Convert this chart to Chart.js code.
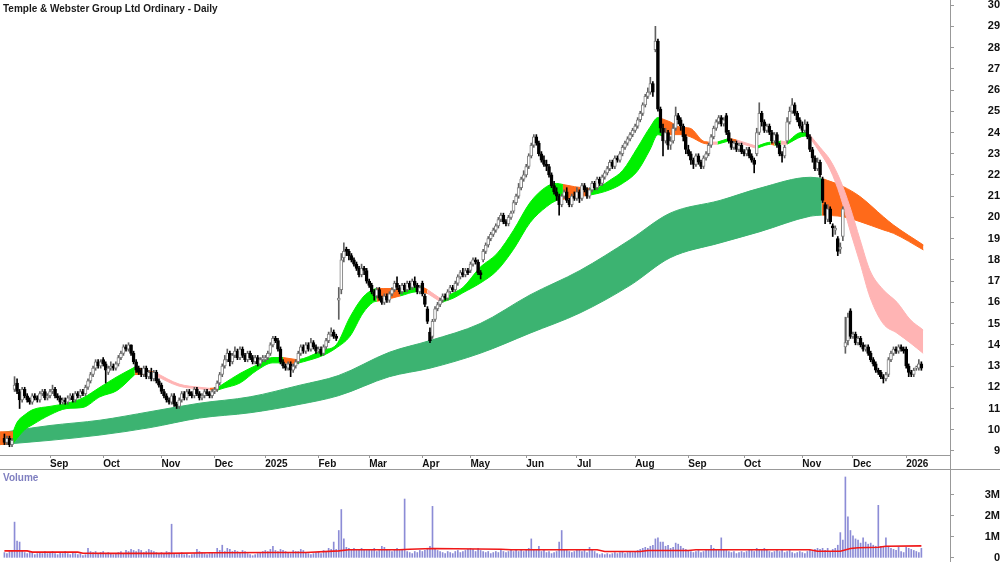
<!DOCTYPE html>
<html>
<head>
<meta charset="utf-8">
<script src="https://cdn.jsdelivr.net/npm/chart.js@4.4.1/dist/chart.umd.min.js"></script>
<style>
  body { margin: 0; background: #fff; }
  #wrap { position: relative; width: 1000px; height: 562px; }
  canvas { position: absolute; left: 0; }
  #price { top: 0; }
  #vol { top: 469px; }
</style>
</head>
<body>
<div id="wrap">
  <canvas id="price" width="1000" height="469"></canvas>
  <canvas id="vol" width="1000" height="93"></canvas>
</div>
<script>
// daily bars, index 0 = first session shown (Aug 2024)
const opens = [
  9.6, 9.4, 9.6, 9.3, 11.9, 12.2, 11.8, 11.4, 11.9, 11.6, 11.4, 11.3, 11.6, 11.5, 11.4, 11.7, 11.8, 11.5,
  11.6, 11.8, 11.9, 11.6, 11.5, 11.3, 11.4, 11.3, 11.5, 11.6, 11.4, 11.7, 11.6, 11.8, 11.7, 12.0, 12.3, 12.6, 12.9, 13.2, 13.0,
  13.3, 13.1, 12.7, 12.9, 13.0, 12.9, 13.1, 13.4, 13.6, 13.9, 13.8, 14.0, 13.6, 13.2, 12.9, 12.8, 12.6, 12.9, 12.5, 12.7, 12.4, 12.7, 12.3,
  12.1, 11.8, 11.6, 11.4, 11.3, 11.6, 11.2, 11.1, 11.4, 11.7, 11.5, 11.8, 11.7, 11.6, 11.9, 11.7, 11.5, 11.6, 11.8, 11.7, 11.6,
  11.8, 11.9, 12.2, 12.6, 13.0, 13.3, 13.6, 13.2, 13.5, 13.7, 13.4, 13.8, 13.5, 13.3, 13.6, 13.4, 13.2, 13.4, 13.1, 13.3,
  13.3, 13.4, 13.6, 14.0, 14.3, 14.2, 13.8, 13.2, 13.0, 12.9, 13.1, 12.8, 13.0, 13.2, 13.6, 13.9, 13.7, 14.0, 13.8, 14.1, 13.9,
  13.7, 13.8, 13.6, 13.9, 14.2, 14.5, 14.6, 14.4, 16.1, 16.6, 18.1, 18.5, 18.4, 18.2, 18.0, 17.8, 17.6, 17.3, 17.6, 17.5,
  17.0, 16.8, 16.5, 16.3, 16.6, 16.2, 16.0, 16.3, 16.1, 16.4, 16.6, 16.9, 16.7, 16.5, 16.8, 16.6, 16.9, 16.7, 17.0, 16.8, 16.5,
  16.9, 16.3, 15.7, 14.6, 14.4, 15.2, 15.7, 15.9, 16.1, 16.3, 16.2, 16.5, 16.7, 16.6, 16.9, 17.2, 17.4, 17.3, 17.5,
  17.5, 17.8, 18.0, 17.9, 17.4, 18.0, 18.4, 18.7, 19.0, 19.2, 19.4, 19.6, 19.9, 20.1, 19.8, 19.7, 20.0, 20.3, 20.7, 21.0, 21.4, 21.8,
  22.0, 22.4, 22.9, 23.4, 23.8, 23.5, 23.0, 22.7, 22.5, 22.4, 22.0, 21.5, 21.2, 21.0, 20.6, 21.0, 21.2, 20.8, 20.6, 21.0,
  20.9, 21.2, 20.9, 21.5, 21.3, 21.0, 21.3, 21.6, 21.4, 21.8, 21.6, 21.9, 22.1, 22.3, 22.6, 22.4, 22.8, 22.7, 23.0, 23.3, 23.5, 23.7, 23.9,
  24.1, 24.3, 24.6, 24.9, 25.3, 25.7, 25.9, 26.3, 27.9, 28.3, 25.1, 24.2, 23.6, 24.0, 23.4, 23.6, 24.2, 24.8, 24.6, 24.3, 23.8,
  23.2, 23.0, 22.7, 22.5, 22.9, 22.6, 22.4, 22.8, 23.0, 23.4, 23.8, 24.2, 24.5, 24.7, 24.4, 24.8, 24.0, 23.6, 23.3, 23.5, 23.2, 23.4,
  23.1, 23.0, 23.2, 22.9, 22.7, 23.0, 24.0, 24.9, 24.5, 24.1, 24.3, 24.0, 23.6, 23.9, 23.4, 23.0, 22.9, 23.6, 24.5, 25.0, 25.3, 24.9, 24.6,
  24.3, 24.1, 24.4, 23.8, 23.2, 22.8, 22.3, 22.6, 21.8, 20.6, 19.9, 20.4, 19.6, 19.4, 19.0, 18.5, 19.1, 13.9, 14.2, 15.6,
  14.4, 14.5, 14.1, 14.3, 14.0, 13.8, 13.9, 13.6, 13.3, 13.1, 12.8, 12.7, 12.5, 12.4, 12.6, 13.3, 13.6, 13.8, 13.7, 13.9, 13.8,
  13.8, 13.0, 12.7, 12.6, 12.9, 12.9, 13.1
];
const highs = [
  9.8, 9.7, 9.7, 9.6, 12.5, 12.4, 11.9, 12.0, 12.0, 11.7, 11.5, 11.7, 11.7, 11.6, 11.8, 11.9, 11.9, 11.7,
  11.9, 12.1, 12.0, 11.7, 11.6, 11.5, 11.5, 11.6, 11.7, 11.7, 11.8, 11.8, 11.9, 11.9, 12.1, 12.4, 12.7, 13.0, 13.3, 13.3, 13.3,
  13.4, 13.2, 13.0, 13.2, 13.1, 13.2, 13.5, 13.7, 14.0, 14.0, 14.1, 14.0, 13.7, 13.3, 13.0, 12.9, 13.0, 13.0, 12.8, 12.9, 12.8, 12.8, 12.4,
  12.2, 11.9, 11.7, 11.5, 11.7, 11.7, 11.3, 11.5, 11.8, 11.8, 11.9, 11.9, 11.8, 12.0, 12.0, 11.8, 11.7, 11.9, 11.9, 11.8, 11.9,
  12.0, 12.3, 12.7, 13.1, 13.5, 13.8, 13.7, 13.6, 13.9, 13.8, 13.9, 13.9, 13.6, 13.7, 13.7, 13.5, 13.5, 13.5, 13.4, 13.5,
  13.5, 13.7, 14.1, 14.4, 14.4, 14.3, 13.9, 13.3, 13.1, 13.2, 13.2, 13.1, 13.3, 13.7, 14.0, 14.0, 14.1, 14.1, 14.3, 14.2, 14.0,
  13.9, 13.9, 14.0, 14.3, 14.6, 14.8, 14.7, 14.5, 16.7, 18.3, 18.8, 18.6, 18.5, 18.3, 18.1, 17.9, 17.7, 17.8, 17.7, 17.6,
  17.1, 16.9, 16.6, 16.7, 16.7, 16.3, 16.4, 16.4, 16.5, 16.7, 17.0, 17.2, 16.8, 16.9, 16.9, 17.0, 17.0, 17.1, 17.2, 16.9, 16.8,
  17.0, 16.4, 15.8, 14.8, 15.2, 15.8, 16.0, 16.2, 16.4, 16.4, 16.6, 16.8, 16.8, 17.0, 17.3, 17.5, 17.6, 17.6, 17.6,
  17.9, 18.1, 18.1, 18.0, 17.5, 18.5, 18.8, 19.1, 19.3, 19.5, 19.7, 20.0, 20.2, 20.2, 19.9, 20.1, 20.3, 20.8, 21.1, 21.6, 21.9, 22.2,
  22.5, 23.0, 23.5, 23.9, 23.9, 23.6, 23.1, 22.9, 22.7, 22.5, 22.1, 21.7, 21.4, 21.1, 21.1, 21.3, 21.4, 20.9, 21.1, 21.2,
  21.4, 21.3, 21.6, 21.6, 21.4, 21.4, 21.7, 21.7, 21.9, 21.9, 22.0, 22.2, 22.4, 22.7, 22.7, 22.9, 22.9, 23.1, 23.4, 23.6, 23.8, 24.0, 24.2,
  24.4, 24.7, 25.0, 25.4, 25.8, 26.1, 26.6, 26.4, 29.0, 28.4, 25.2, 24.4, 24.2, 24.1, 23.8, 24.4, 25.2, 24.9, 24.7, 24.4, 23.9,
  23.4, 23.1, 22.8, 23.0, 23.0, 22.7, 22.9, 23.1, 23.5, 23.9, 24.3, 24.6, 24.8, 24.8, 24.7, 24.9, 24.1, 23.7, 23.6, 23.6, 23.5, 23.5,
  23.2, 23.3, 23.3, 23.0, 22.8, 24.2, 25.4, 25.0, 24.6, 24.4, 24.4, 24.1, 24.0, 24.0, 23.5, 23.1, 23.4, 24.7, 25.2, 25.6, 25.4, 25.0, 24.7,
  24.5, 24.6, 24.5, 23.9, 23.3, 22.9, 22.8, 22.7, 21.9, 20.7, 20.6, 20.5, 19.7, 19.6, 19.1, 18.8, 20.5, 15.3, 15.5, 15.7,
  14.6, 14.6, 14.4, 14.4, 14.1, 14.0, 14.0, 13.7, 13.4, 13.2, 12.9, 12.8, 12.6, 12.7, 13.4, 13.7, 13.9, 13.9, 14.0, 14.0, 13.9,
  13.9, 13.1, 12.8, 12.9, 13.0, 13.3, 13.2
];
const lows = [
  9.3, 9.3, 9.2, 9.2, 11.8, 11.7, 11.0, 11.3, 11.5, 11.3, 11.2, 11.2, 11.4, 11.3, 11.3, 11.6, 11.4, 11.4,
  11.5, 11.7, 11.5, 11.4, 11.2, 11.2, 11.2, 11.2, 11.4, 11.3, 11.3, 11.5, 11.5, 11.6, 11.6, 11.9, 12.2, 12.5, 12.8, 12.9, 12.9,
  13.0, 12.2, 12.6, 12.8, 12.8, 12.8, 13.0, 13.3, 13.5, 13.7, 13.7, 13.5, 13.1, 12.7, 12.6, 12.5, 12.5, 12.4, 12.4, 12.3, 12.3, 12.2, 12.0,
  11.7, 11.5, 11.3, 11.2, 11.2, 11.1, 11.0, 11.0, 11.3, 11.4, 11.4, 11.6, 11.5, 11.5, 11.6, 11.4, 11.4, 11.5, 11.6, 11.5, 11.5,
  11.7, 11.8, 12.1, 12.5, 12.9, 13.2, 13.0, 13.1, 13.4, 13.3, 13.3, 13.4, 13.2, 13.2, 13.3, 13.1, 13.1, 13.0, 13.0, 13.2,
  13.2, 13.3, 13.5, 13.9, 14.1, 13.7, 13.1, 12.9, 12.8, 12.8, 12.5, 12.7, 12.9, 13.1, 13.5, 13.6, 13.6, 13.7, 13.7, 13.8, 13.6,
  13.6, 13.5, 13.5, 13.8, 14.1, 14.4, 14.3, 14.2, 15.2, 16.4, 17.9, 18.2, 18.0, 17.9, 17.7, 17.5, 17.2, 17.2, 17.3, 16.9,
  16.7, 16.4, 16.1, 16.2, 16.1, 15.9, 15.9, 16.0, 16.0, 16.3, 16.5, 16.6, 16.4, 16.4, 16.5, 16.5, 16.6, 16.6, 16.7, 16.4, 16.4,
  16.3, 15.8, 15.0, 14.1, 14.3, 15.1, 15.6, 15.8, 16.0, 16.1, 16.1, 16.4, 16.5, 16.5, 16.8, 17.1, 17.2, 17.2, 17.3,
  17.4, 17.7, 17.8, 17.3, 17.1, 17.9, 18.3, 18.6, 18.9, 19.1, 19.3, 19.5, 19.8, 19.7, 19.6, 19.6, 19.9, 20.2, 20.6, 20.9, 21.3, 21.7,
  21.9, 22.3, 22.8, 23.3, 23.4, 22.9, 22.6, 22.4, 22.2, 21.9, 21.4, 21.1, 20.8, 20.1, 20.5, 20.9, 20.7, 20.5, 20.5, 20.8,
  20.8, 20.7, 20.8, 21.2, 20.9, 20.9, 21.2, 21.3, 21.3, 21.5, 21.5, 21.8, 22.0, 22.2, 22.3, 22.3, 22.6, 22.6, 22.9, 23.2, 23.4, 23.6, 23.8,
  24.0, 24.2, 24.5, 24.8, 25.2, 25.6, 25.8, 25.7, 27.8, 25.0, 24.0, 22.9, 23.5, 23.2, 23.2, 23.5, 24.1, 24.4, 24.1, 23.6, 23.0,
  22.9, 22.5, 22.3, 22.4, 22.5, 22.3, 22.3, 22.7, 22.9, 23.3, 23.7, 24.1, 24.4, 24.3, 24.3, 23.9, 23.5, 23.2, 23.2, 23.1, 23.1, 23.0,
  22.9, 22.9, 22.8, 22.6, 22.1, 22.9, 23.9, 24.3, 24.0, 24.0, 23.9, 23.5, 23.5, 23.3, 22.9, 22.6, 22.8, 23.5, 24.4, 24.9, 24.8, 24.5, 24.2,
  24.0, 24.0, 23.7, 23.1, 22.6, 22.2, 22.2, 21.9, 20.7, 19.7, 19.8, 19.7, 19.1, 19.2, 18.2, 18.3, 18.9, 13.6, 14.0, 14.3,
  14.3, 14.0, 14.0, 13.9, 13.7, 13.7, 13.5, 13.2, 13.0, 12.7, 12.6, 12.4, 12.2, 12.3, 12.5, 13.2, 13.5, 13.6, 13.6, 13.7, 13.6,
  12.9, 12.5, 12.5, 12.5, 12.8, 12.8, 12.8
];
const closes = [
  9.4, 9.6, 9.3, 9.5, 12.1, 11.8, 11.4, 11.9, 11.6, 11.4, 11.3, 11.6, 11.5, 11.4, 11.7, 11.8, 11.5, 11.6,
  11.8, 11.9, 11.6, 11.5, 11.3, 11.4, 11.3, 11.5, 11.6, 11.4, 11.7, 11.6, 11.8, 11.7, 12.0, 12.3, 12.6, 12.9, 13.2, 13.0, 13.2,
  13.1, 12.8, 12.9, 13.0, 12.9, 13.1, 13.4, 13.6, 13.9, 13.8, 14.0, 13.6, 13.2, 12.8, 12.7, 12.6, 12.9, 12.5, 12.7, 12.4, 12.7, 12.3, 12.1,
  11.8, 11.6, 11.4, 11.3, 11.6, 11.2, 11.1, 11.4, 11.7, 11.5, 11.8, 11.7, 11.6, 11.9, 11.7, 11.5, 11.6, 11.8, 11.7, 11.6, 11.8,
  11.9, 12.2, 12.6, 13.0, 13.3, 13.6, 13.2, 13.5, 13.7, 13.4, 13.8, 13.5, 13.3, 13.6, 13.4, 13.2, 13.4, 13.1, 13.3, 13.4,
  13.4, 13.6, 14.0, 14.3, 14.2, 13.8, 13.2, 13.0, 12.9, 13.1, 12.8, 13.0, 13.2, 13.6, 13.9, 13.7, 14.0, 13.8, 14.1, 13.9, 13.7,
  13.8, 13.6, 13.9, 14.2, 14.5, 14.6, 14.4, 14.3, 16.2, 18.0, 18.4, 18.4, 18.2, 18.0, 17.8, 17.6, 17.3, 17.6, 17.5, 17.0,
  16.8, 16.5, 16.3, 16.6, 16.2, 16.0, 16.3, 16.1, 16.4, 16.6, 16.9, 16.7, 16.5, 16.8, 16.6, 16.9, 16.7, 17.0, 16.8, 16.5, 16.7,
  16.4, 15.9, 15.1, 14.2, 15.1, 15.7, 15.9, 16.1, 16.3, 16.2, 16.5, 16.7, 16.6, 16.9, 17.2, 17.4, 17.3, 17.5, 17.4,
  17.8, 18.0, 17.9, 17.4, 17.3, 18.4, 18.7, 19.0, 19.2, 19.4, 19.6, 19.9, 20.1, 19.8, 19.7, 20.0, 20.2, 20.7, 21.0, 21.4, 21.8, 22.0,
  22.4, 22.9, 23.4, 23.8, 23.5, 23.0, 22.7, 22.5, 22.4, 22.0, 21.5, 21.2, 21.0, 20.6, 21.0, 21.2, 20.8, 20.6, 21.0, 20.9,
  21.2, 20.9, 21.5, 21.3, 21.0, 21.3, 21.6, 21.4, 21.8, 21.6, 21.9, 22.1, 22.3, 22.6, 22.4, 22.8, 22.7, 23.0, 23.3, 23.5, 23.7, 23.9, 24.1,
  24.3, 24.6, 24.9, 25.3, 25.7, 25.9, 26.3, 25.9, 28.3, 25.1, 24.2, 23.6, 24.0, 23.4, 23.6, 24.2, 24.8, 24.6, 24.3, 23.8, 23.2,
  23.0, 22.7, 22.5, 22.9, 22.6, 22.4, 22.8, 23.0, 23.4, 23.8, 24.2, 24.5, 24.7, 24.4, 24.6, 24.0, 23.6, 23.3, 23.5, 23.2, 23.4, 23.1,
  23.0, 23.2, 22.9, 22.7, 22.5, 24.0, 24.9, 24.5, 24.1, 24.3, 24.0, 23.6, 23.9, 23.4, 23.0, 22.9, 23.3, 24.5, 25.0, 25.3, 24.9, 24.6, 24.3,
  24.1, 24.4, 23.8, 23.2, 22.8, 22.3, 22.6, 22.0, 20.8, 20.1, 20.4, 19.8, 19.5, 19.5, 18.4, 18.6, 20.4, 14.1, 15.3, 14.4,
  14.5, 14.1, 14.3, 14.0, 13.8, 13.9, 13.6, 13.3, 13.1, 12.8, 12.7, 12.5, 12.4, 12.6, 13.3, 13.6, 13.8, 13.7, 13.9, 13.8, 13.7,
  13.0, 12.7, 12.6, 12.8, 12.9, 13.1, 12.9
];
// volume in millions of shares
const volumes = [
  0.25, 0.2, 0.3, 0.35, 1.7, 0.8, 0.75, 0.35, 0.25, 0.2, 0.3, 0.25, 0.15, 0.2, 0.25, 0.2, 0.3, 0.2,
  0.25, 0.3, 0.2, 0.15, 0.25, 0.2, 0.3, 0.2, 0.15, 0.25, 0.2, 0.15, 0.2, 0.1, 0.15, 0.45, 0.3, 0.25, 0.3, 0.2, 0.25,
  0.3, 0.2, 0.25, 0.2, 0.15, 0.2, 0.25, 0.3, 0.2, 0.35, 0.3, 0.4, 0.35, 0.3, 0.4, 0.35, 0.25, 0.3, 0.4, 0.35, 0.3, 0.25, 0.2,
  0.25, 0.2, 0.3, 0.25, 1.6, 0.2, 0.15, 0.2, 0.25, 0.15, 0.2, 0.1, 0.15, 0.2, 0.4, 0.3, 0.25, 0.2, 0.15, 0.2, 0.25,
  0.2, 0.45, 0.35, 0.6, 0.3, 0.45, 0.4, 0.3, 0.35, 0.3, 0.25, 0.35, 0.3, 0.2, 0.15, 0.1, 0.15, 0.2, 0.25, 0.3,
  0.35, 0.3, 0.4, 0.55, 0.35, 0.3, 0.4, 0.35, 0.3, 0.25, 0.2, 0.35, 0.3, 0.3, 0.4, 0.35, 0.25, 0.2, 0.15, 0.2, 0.25,
  0.3, 0.2, 0.35, 0.3, 0.45, 0.4, 0.75, 0.4, 1.3, 2.3, 0.9, 0.5, 0.45, 0.4, 0.45, 0.35, 0.4, 0.45, 0.4, 0.35,
  0.4, 0.35, 0.45, 0.3, 0.35, 0.55, 0.5, 0.4, 0.35, 0.3, 0.4, 0.45, 0.35, 0.4, 2.8, 0.3, 0.25, 0.2, 0.3, 0.25, 0.35,
  0.3, 0.35, 0.4, 0.55, 2.45, 0.4, 0.35, 0.3, 0.25, 0.2, 0.3, 0.25, 0.2, 0.3, 0.35, 0.25, 0.3, 0.35, 0.4,
  0.45, 0.4, 0.3, 0.45, 0.35, 0.3, 0.25, 0.3, 0.2, 0.25, 0.3, 0.25, 0.35, 0.3, 0.25, 0.3, 0.35, 0.3, 0.4, 0.3, 0.35, 0.3,
  0.4, 0.45, 0.9, 0.4, 0.35, 0.55, 0.3, 0.35, 0.25, 0.3, 0.2, 0.25, 0.3, 0.75, 1.3, 0.4, 0.35, 0.3, 0.25, 0.3,
  0.35, 0.4, 0.3, 0.35, 0.25, 0.5, 0.35, 0.3, 0.2, 0.15, 0.2, 0.15, 0.2, 0.15, 0.2, 0.25, 0.2, 0.25, 0.3, 0.2, 0.25, 0.3, 0.25,
  0.3, 0.35, 0.4, 0.45, 0.5, 0.45, 0.55, 0.6, 0.9, 0.95, 0.75, 0.75, 0.55, 0.6, 0.45, 0.5, 0.7, 0.65, 0.55, 0.45, 0.4,
  0.35, 0.3, 0.25, 0.3, 0.35, 0.25, 0.3, 0.35, 0.4, 0.6, 0.45, 0.4, 0.35, 0.95, 0.4, 0.35, 0.3, 0.25, 0.3, 0.2, 0.25, 0.3,
  0.25, 0.3, 0.4, 0.35, 0.3, 0.45, 0.4, 0.35, 0.45, 0.4, 0.3, 0.25, 0.3, 0.35, 0.3, 0.4, 0.25, 0.3, 0.35, 0.25, 0.2, 0.25, 0.3,
  0.25, 0.2, 0.3, 0.35, 0.3, 0.4, 0.45, 0.4, 0.45, 0.35, 0.45, 0.3, 0.4, 0.45, 0.6, 1.2, 0.85, 3.85, 1.95, 1.3,
  1.05, 0.9, 0.85, 0.7, 0.95, 0.75, 0.65, 0.7, 0.6, 0.55, 2.5, 0.55, 0.5, 0.95, 0.5, 0.45, 0.4, 0.35, 0.5, 0.3, 0.25,
  0.5, 0.45, 0.4, 0.35, 0.3, 0.25, 0.45
];

// volume average line (red)
const volAvgDay = [0, 9, 11, 29, 31, 42, 64, 82, 105, 119, 132, 136, 156, 160, 169, 196, 200, 234, 237, 251, 254, 270, 273, 318, 321, 330, 334, 337, 345, 348, 362];
const volAvg = [0.33, 0.33, 0.27, 0.27, 0.22, 0.21, 0.21, 0.24, 0.25, 0.25, 0.33, 0.38, 0.38, 0.41, 0.44, 0.41, 0.38, 0.38, 0.30, 0.30, 0.35, 0.35, 0.38, 0.38, 0.31, 0.31, 0.44, 0.48, 0.50, 0.55, 0.57];

// short-term average ribbon: day, upper, lower, colour of the stretch that starts there
const shortDay = [-1.7, 3.4, 5, 8, 11.3, 18, 24.7, 31, 37.7, 44.5, 51.5, 55, 59.5, 69, 77, 81, 84, 86.3, 93, 99.7, 106, 110, 115.5, 118, 125.8, 131, 136.4, 141.6, 145.5, 147, 149.5, 156.2, 163, 165, 167, 172.5, 177.3, 181, 187.8, 194.5, 201, 207.5, 214, 218, 220.5, 225, 231, 235, 239, 244, 250, 254.9, 258, 259.5, 262.8, 266.7, 270.7, 275.8, 278, 281.5, 286, 289, 297, 300.5, 302.5, 304, 306.5, 309, 314.6, 317, 318.2, 322, 326, 330, 333.8, 337.8, 341.7, 346.9, 352.4, 357.5, 362.7];
const shortTop = [9.9, 9.9, 10.35, 10.7, 10.95, 11.1, 11.25, 11.5, 12.0, 12.5, 12.95, 12.85, 12.7, 12.15, 12.0, 11.95, 11.97, 12.15, 12.65, 13.05, 13.4, 13.4, 13.3, 13.35, 13.75, 14.0, 15.3, 16.25, 16.6, 16.65, 16.65, 16.65, 16.75, 16.72, 16.6, 16.15, 16.45, 16.7, 17.65, 18.3, 19.4, 20.7, 21.45, 21.6, 21.55, 21.45, 21.35, 21.45, 21.75, 22.2, 23.3, 24.25, 24.7, 24.65, 24.5, 24.25, 24.2, 23.6, 23.55, 23.55, 23.72, 23.65, 23.35, 23.5, 23.55, 23.5, 23.6, 23.55, 24.0, 24.0, 23.85, 23.3, 22.7, 21.75, 20.5, 18.95, 17.5, 16.6, 16.0, 15.2, 14.7];
const shortBot = [9.3, 9.35, 9.6, 10.0, 10.25, 10.7, 11.0, 11.05, 11.55, 11.85, 12.6, 12.6, 12.55, 12.05, 11.93, 11.88, 11.86, 11.95, 12.2, 12.8, 13.15, 13.15, 13.12, 13.2, 13.5, 13.85, 14.4, 15.5, 16.0, 16.05, 16.1, 16.3, 16.5, 16.5, 16.42, 16.0, 16.2, 16.45, 16.9, 17.5, 18.5, 19.75, 20.5, 20.8, 20.85, 20.95, 21.05, 21.15, 21.3, 21.6, 22.2, 23.2, 23.9, 23.85, 23.9, 23.9, 23.8, 23.5, 23.45, 23.45, 23.6, 23.55, 23.25, 23.4, 23.45, 23.4, 23.45, 23.45, 23.8, 23.85, 23.7, 23.05, 22.25, 21.0, 19.4, 17.85, 16.25, 15.0, 14.55, 14.1, 13.6];
const shortCol = ['o', 'g', 'g', 'g', 'g', 'g', 'g', 'g', 'g', 'g', 'o', 'o', 'p', 'p', 'p', 'o', 'g', 'g', 'g', 'g', 'g', 'o', 'g', 'g', 'g', 'g', 'g', 'g', 'g', 'o', 'o', 'g', 'g', 'o', 'p', 'g', 'g', 'g', 'g', 'g', 'g', 'g', 'g', 'g', 'o', 'o', 'g', 'g', 'g', 'g', 'g', 'g', 'g', 'o', 'o', 'o', 'o', 'o', 'p', 'g', 'o', 'p', 'g', 'g', 'o', 'g', 'p', 'g', 'g', 'p', 'p', 'p', 'p', 'p', 'p', 'p', 'p', 'p', 'p', 'p', 'p'];

// long-term average ribbon
const longDay = [-1.7, 3.4, 18, 37.7, 57.5, 77, 97, 116.7, 131.8, 152, 168, 187.8, 207.5, 227.2, 247, 262.8, 282.5, 298.3, 318.2, 322.7, 331.2, 337.8, 347, 351, 362.8];
const longTop = [9.85, 9.95, 10.2, 10.45, 10.85, 11.25, 11.55, 12.1, 12.55, 13.65, 14.2, 15.0, 16.35, 17.5, 18.95, 20.2, 20.8, 21.38, 21.89, 21.84, 21.45, 20.98, 20.03, 19.64, 18.7];
const longBot = [9.3, 9.35, 9.5, 9.75, 10.1, 10.55, 10.8, 11.2, 11.6, 12.5, 12.9, 13.6, 14.55, 15.5, 16.8, 18.1, 18.8, 19.33, 20.06, 20.11, 20.03, 19.8, 19.41, 19.25, 18.47];
const longCol = ['d', 'd', 'd', 'd', 'd', 'd', 'd', 'd', 'd', 'd', 'd', 'd', 'd', 'd', 'd', 'd', 'd', 'd', 'd', 'o', 'o', 'o', 'o', 'o', 'o'];

const monthDay = [18, 39, 62, 83, 103, 124, 144, 165, 184, 206, 226, 249, 270, 292, 315, 335, 356];
const monthLabels = ['Sep', 'Oct', 'Nov', 'Dec', '2025', 'Feb', 'Mar', 'Apr', 'May', 'Jun', 'Jul', 'Aug', 'Sep', 'Oct', 'Nov', 'Dec', '2026'];
const priceTicks = [9, 10, 11, 12, 13, 14, 15, 16, 17, 18, 19, 20, 21, 22, 23, 24, 25, 26, 27, 28, 29, 30];
const volTicks = [0, 1, 2, 3];

const FONT = '"Liberation Sans", Arial, sans-serif';
const ribbonColors = { g: '#00f000', o: '#ff6a1a', p: '#ffb4b4', d: '#3cb371' };
const xMin = -1.74, xMax = 373.3;

const days = closes.map((c, i) => i);
const isUp = days.map(i => closes[i] >= opens[i]);

// split a ribbon into coloured stretches, each a pair of lines filled between
function ribbon(xs, tops, bots, cols, order) {
  const sets = [];
  let k = 0;
  while (k < xs.length - 1) {
    let m = k;
    while (m < xs.length - 1 && cols[m] === cols[k]) m++;
    const top = [], bot = [];
    for (let j = k; j <= m; j++) {
      top.push({ x: xs[j], y: tops[j] });
      bot.push({ x: xs[j], y: bots[j] });
    }
    const c = ribbonColors[cols[k]];
    const base = { type: 'line', pointRadius: 0, borderWidth: 1, borderColor: c, cubicInterpolationMode: 'monotone', order: order };
    sets.push(Object.assign({}, base, { data: top, fill: '+1', backgroundColor: c }));
    sets.push(Object.assign({}, base, { data: bot, fill: false }));
    k = m;
  }
  return sets;
}

const panelText = {
  id: 'panelText',
  afterDraw(chart, args, opts) {
    const c = chart.ctx, a = chart.chartArea;
    c.save();
    c.strokeStyle = '#999';
    c.lineWidth = 1;
    c.beginPath();
    c.moveTo(a.right + 0.5, 0);
    c.lineTo(a.right + 0.5, chart.height);
    if (opts.topLine) {
      c.moveTo(0, 0.5);
      c.lineTo(chart.width, 0.5);
    }
    c.stroke();
    c.font = 'bold 10px ' + FONT;
    c.fillStyle = opts.color;
    c.textBaseline = 'middle';
    c.fillText(opts.text, 3, opts.y);
    c.restore();
  }
};

function noPad(s) {
  s.paddingTop = 0; s.paddingBottom = 0; s.paddingLeft = 0; s.paddingRight = 0;
}

const tickFont = { family: FONT, size: 10, weight: 'bold' };

new Chart(document.getElementById('price'), {
  type: 'bar',
  data: {
    datasets: [
      {
        label: 'body',
        data: days.map(i => ({ x: i, y: [opens[i], closes[i]] })),
        barThickness: 3,
        grouped: false,
        minBarLength: 1,
        borderWidth: 1,
        borderSkipped: false,
        backgroundColor: days.map(i => isUp[i] ? '#ffffff' : '#000000'),
        borderColor: days.map(i => isUp[i] ? '#808080' : '#000000'),
        order: 0
      },
      {
        label: 'wick',
        data: days.map(i => ({ x: i, y: [Math.min(lows[i], opens[i], closes[i]), Math.max(highs[i], opens[i], closes[i])] })),
        barThickness: 1,
        grouped: false,
        borderWidth: 0,
        backgroundColor: days.map(i => isUp[i] ? '#606060' : '#000000'),
        order: 1
      },
      ...ribbon(shortDay, shortTop, shortBot, shortCol, 2),
      ...ribbon(longDay, longTop, longBot, longCol, 3)
    ]
  },
  options: {
    responsive: false,
    animation: false,
    events: [],
    layout: { padding: 0 },
    plugins: {
      legend: { display: false },
      tooltip: { enabled: false },
      panelText: { text: 'Temple & Webster Group Ltd Ordinary - Daily', color: '#1a1a1a', y: 9 }
    },
    scales: {
      x: {
        type: 'linear', min: xMin, max: xMax, offset: false,
        grid: { drawOnChartArea: false, tickLength: 3, color: '#999', offset: false },
        border: { color: '#999' },
        ticks: {
          autoSkip: false, maxRotation: 0, align: 'start', padding: 0,
          font: tickFont, color: '#111',
          callback: (v, i) => monthLabels[i]
        },
        afterBuildTicks: s => { s.ticks = monthDay.map(v => ({ value: v })); },
        afterFit: s => { s.height = 14; noPad(s); }
      },
      y: {
        type: 'linear', position: 'right', min: 8.81, max: 30.24,
        grid: { drawOnChartArea: false, tickLength: 4, color: '#999' },
        border: { color: '#999' },
        ticks: { crossAlign: 'far', padding: 31, font: { family: FONT, size: 11, weight: 'bold' }, color: '#111' },
        afterBuildTicks: s => { s.ticks = priceTicks.map(v => ({ value: v })); },
        afterFit: s => { s.width = 50; noPad(s); }
      }
    }
  },
  plugins: [panelText]
});

new Chart(document.getElementById('vol'), {
  type: 'bar',
  data: {
    datasets: [
      {
        type: 'line',
        data: volAvgDay.map((d, k) => ({ x: d, y: volAvg[k] })),
        borderColor: '#f01818',
        borderWidth: 1.6,
        pointRadius: 0,
        tension: 0,
        order: 0
      },
      {
        data: days.map(i => ({ x: i, y: volumes[i] })),
        barThickness: 1,
        grouped: false,
        backgroundColor: '#8c8cd6',
        order: 1
      }
    ]
  },
  options: {
    responsive: false,
    animation: false,
    events: [],
    layout: { padding: 0 },
    plugins: {
      legend: { display: false },
      tooltip: { enabled: false },
      panelText: { text: 'Volume', color: '#7f7fc0', y: 9, topLine: true }
    },
    scales: {
      x: { type: 'linear', min: xMin, max: xMax, offset: false, display: false },
      y: {
        type: 'linear', position: 'right', min: -0.2, max: 4.23,
        grid: { drawOnChartArea: false, tickLength: 4, color: '#999' },
        border: { color: '#999' },
        ticks: {
          crossAlign: 'far', padding: 28, font: { family: FONT, size: 11, weight: 'bold' }, color: '#111',
          callback: v => v === 0 ? '0' : v + 'M'
        },
        afterBuildTicks: s => { s.ticks = volTicks.map(v => ({ value: v })); },
        afterFit: s => { s.width = 50; noPad(s); }
      }
    }
  },
  plugins: [panelText]
});
</script>
</body>
</html>
